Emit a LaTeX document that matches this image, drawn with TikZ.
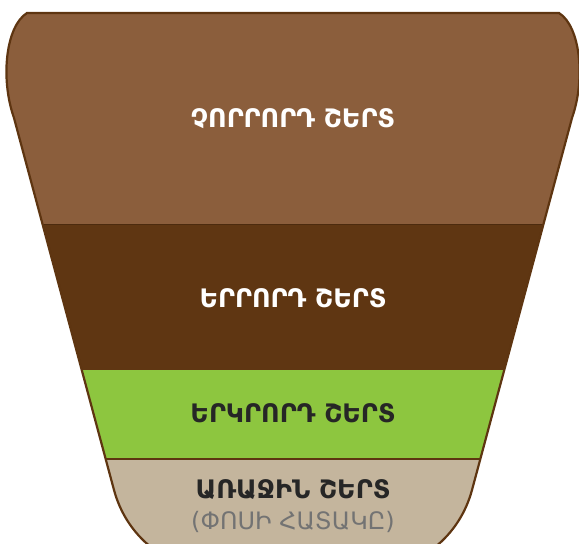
\documentclass[tikz,border=0pt]{standalone}
\usepackage{fontspec}
\setmainfont{DejaVu Sans}
\definecolor{soilTop}{HTML}{8B5E3C}
\definecolor{soilDark}{HTML}{5F3612}
\definecolor{soilGreen}{HTML}{8DC63F}
\definecolor{soilBase}{HTML}{C4B59D}
\definecolor{rim}{HTML}{5E3511}
\newcommand{\funnelpath}{(27,13) -- (559,13)
    .. controls (580,26) and (586,78) .. (572,118) -- (472,490)
    .. controls (466,512) and (454,532) .. (434,548) -- (152,548)
    .. controls (132,532) and (120,512) .. (114,490) -- (14,118)
    .. controls (0,78) and (6,26) .. (27,13) -- cycle}
\begin{document}
\begin{tikzpicture}[x=1pt, y=-1pt,
    layer/.style={font=\bfseries\fontsize{25.5}{30}\selectfont, text=white},
    darklayer/.style={layer, text=black!85},
    note/.style={font=\fontsize{24}{28}\selectfont, text=black!55}
]
    \useasboundingbox (0,0) rectangle (579,544);

    % layers, clipped to the funnel
    \begin{scope}
        \clip \funnelpath;
        \fill[soilTop] (0,0) rectangle (579,224);
        \fill[soilDark] (0,224) rectangle (579,370);
        \fill[soilGreen] (0,370) rectangle (579,459);
        \fill[soilBase] (0,459) rectangle (579,560);
        \draw[soilDark!80!black, line width=1pt] (0,224) -- (579,224);
        \draw[rim, line width=2pt] (0,459) -- (579,459);
    \end{scope}
    \draw[rim, line width=2.2pt] \funnelpath;

    \node[layer] (fourth) at (293,119) {ՉՈՐՐՈՐԴ ՇԵՐՏ};
    \node[layer] (third) at (293,298) {ԵՐՐՈՐԴ ՇԵՐՏ};
    \node[darklayer] (second) at (293,413) {ԵՐԿՐՈՐԴ ՇԵՐՏ};
    \node[darklayer] (first) at (293,490) {ԱՌԱՋԻՆ ՇԵՐՏ};
    \node[note] (firstnote) at (293,522) {(ՓՈՍԻ ՀԱՏԱԿԸ)};
\end{tikzpicture}
\end{document}
